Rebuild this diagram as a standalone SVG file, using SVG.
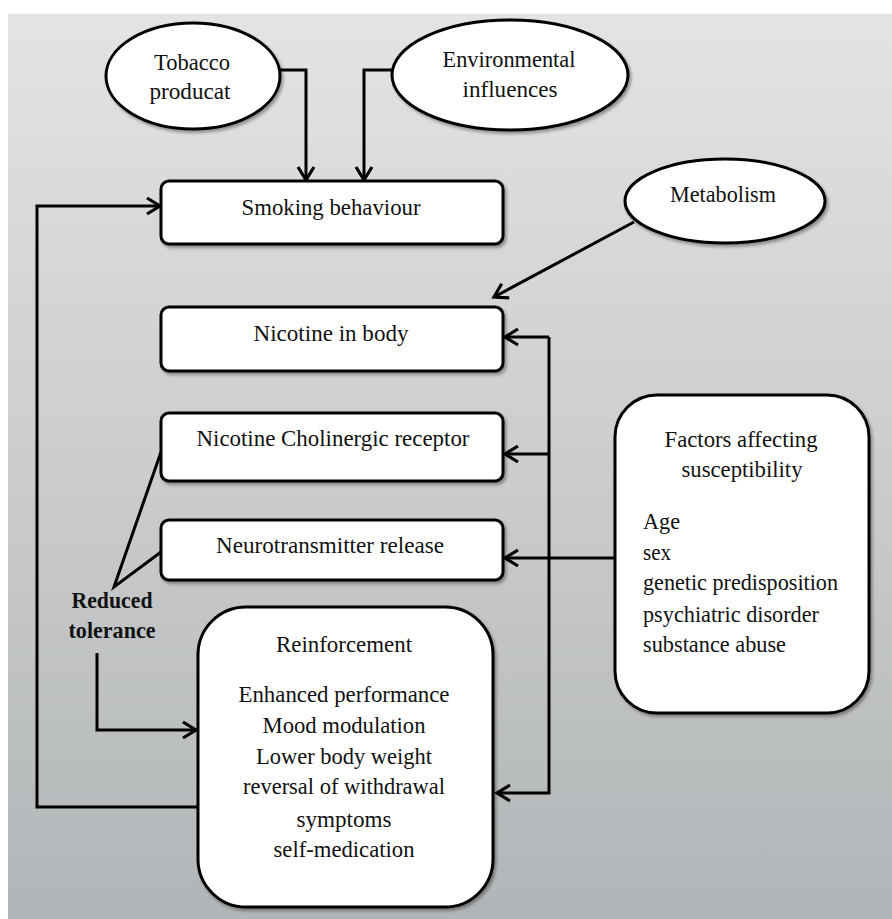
<svg xmlns="http://www.w3.org/2000/svg" width="892" height="919" viewBox="0 0 892 919">
<defs>
<linearGradient id="bg" x1="0" y1="0" x2="0" y2="1">
<stop offset="0" stop-color="#e3e4e4"/>
<stop offset="1" stop-color="#b2b5b7"/>
</linearGradient>
<filter id="sh" x="-10%" y="-10%" width="125%" height="125%">
<feDropShadow dx="2" dy="2.5" stdDeviation="1.5" flood-color="#000" flood-opacity="0.35"/>
</filter>
<marker id="ah" markerUnits="userSpaceOnUse" markerWidth="20" markerHeight="20" viewBox="-2 -2 18 20" refX="13" refY="8" orient="auto" overflow="visible">
<path d="M0,0 L13,8 L0,16" fill="none" stroke="#000" stroke-width="3.2" stroke-linejoin="miter"/>
</marker>
</defs>
<style>
.n{fill:#fff;stroke:#000;stroke-width:3;filter:url(#sh)}
.t{font-family:"Liberation Serif","Times New Roman",serif;font-size:24px;fill:#111;text-anchor:middle}
.l{text-anchor:start}
.b{font-weight:bold}
.c{fill:none;stroke:#000;stroke-width:3}
</style>
<rect x="0" y="0" width="892" height="919" fill="#fff"/>
<rect x="8" y="14" width="884" height="905" fill="url(#bg)"/>

<g id="connectors">
<polyline class="c" points="280,70 306,70 306,180" marker-end="url(#ah)"/>
<polyline class="c" points="392,70 364,70 364,180" marker-end="url(#ah)"/>
<line class="c" x1="634" y1="222" x2="494" y2="297" marker-end="url(#ah)"/>
<polyline class="c" points="198,807 37,807 37,206 160,206" marker-end="url(#ah)"/>
<polyline class="c" points="549,337 549,793 497,793" marker-end="url(#ah)"/>
<line class="c" x1="549" y1="337" x2="505" y2="337" marker-end="url(#ah)"/>
<line class="c" x1="549" y1="454" x2="505" y2="454" marker-end="url(#ah)"/>
<line class="c" x1="615" y1="558" x2="505" y2="558" marker-end="url(#ah)"/>
<polyline class="c" points="161,452 114,587 161,552"/>
<polyline class="c" points="97,653 97,730 196,730" marker-end="url(#ah)"/>
</g>

<g id="tobacco">
<ellipse class="n" cx="193" cy="76" rx="87" ry="53"/>
<text class="t" x="192" y="70" textLength="76" lengthAdjust="spacingAndGlyphs">Tobacco</text>
<text class="t" x="190" y="99" textLength="81" lengthAdjust="spacingAndGlyphs">producat</text>
</g>
<g id="environmental">
<ellipse class="n" cx="510" cy="75" rx="118" ry="55"/>
<text class="t" x="509" y="67" textLength="133" lengthAdjust="spacingAndGlyphs">Environmental</text>
<text class="t" x="510" y="97" textLength="95" lengthAdjust="spacingAndGlyphs">influences</text>
</g>
<g id="smoking">
<rect class="n" x="161" y="181" width="342" height="63" rx="8"/>
<text class="t" x="331" y="215" textLength="179" lengthAdjust="spacingAndGlyphs">Smoking behaviour</text>
</g>
<g id="metabolism">
<ellipse class="n" cx="725" cy="201" rx="100" ry="42"/>
<text class="t" x="723" y="202" textLength="106" lengthAdjust="spacingAndGlyphs">Metabolism</text>
</g>
<g id="nicotine">
<rect class="n" x="161" y="307" width="342" height="64" rx="8"/>
<text class="t" x="331" y="341" textLength="155" lengthAdjust="spacingAndGlyphs">Nicotine in body</text>
</g>
<g id="receptor">
<rect class="n" x="161" y="413" width="342" height="68" rx="8"/>
<text class="t" x="333" y="446" textLength="273" lengthAdjust="spacingAndGlyphs">Nicotine Cholinergic receptor</text>
</g>
<g id="neurotransmitter">
<rect class="n" x="161" y="520" width="342" height="60" rx="8"/>
<text class="t" x="330" y="553" textLength="228" lengthAdjust="spacingAndGlyphs">Neurotransmitter release</text>
</g>
<g id="factors">
<rect class="n" x="615" y="395" width="254" height="318" rx="42"/>
<text class="t" x="741" y="447" textLength="153" lengthAdjust="spacingAndGlyphs">Factors affecting</text>
<text class="t" x="742" y="477" textLength="121" lengthAdjust="spacingAndGlyphs">susceptibility</text>
<text class="t l" x="643" y="529" textLength="37" lengthAdjust="spacingAndGlyphs">Age</text>
<text class="t l" x="643" y="560" textLength="28" lengthAdjust="spacingAndGlyphs">sex</text>
<text class="t l" x="643" y="590" textLength="195" lengthAdjust="spacingAndGlyphs">genetic predisposition</text>
<text class="t l" x="643" y="622" textLength="176" lengthAdjust="spacingAndGlyphs">psychiatric disorder</text>
<text class="t l" x="643" y="652" textLength="143" lengthAdjust="spacingAndGlyphs">substance abuse</text>
</g>
<g id="tolerance">
<text class="t b" x="112" y="608" textLength="81" lengthAdjust="spacingAndGlyphs">Reduced</text>
<text class="t b" x="112" y="638" textLength="87" lengthAdjust="spacingAndGlyphs">tolerance</text>
</g>
<g id="reinforcement">
<rect class="n" x="198" y="607" width="295" height="300" rx="48"/>
<text class="t" x="344" y="652" textLength="136" lengthAdjust="spacingAndGlyphs">Reinforcement</text>
<text class="t" x="344" y="702" textLength="211" lengthAdjust="spacingAndGlyphs">Enhanced performance</text>
<text class="t" x="344" y="733" textLength="163" lengthAdjust="spacingAndGlyphs">Mood modulation</text>
<text class="t" x="344" y="764" textLength="176" lengthAdjust="spacingAndGlyphs">Lower body weight</text>
<text class="t" x="344" y="794" textLength="202" lengthAdjust="spacingAndGlyphs">reversal of withdrawal</text>
<text class="t" x="344" y="827" textLength="95" lengthAdjust="spacingAndGlyphs">symptoms</text>
<text class="t" x="344" y="857" textLength="141" lengthAdjust="spacingAndGlyphs">self-medication</text>
</g>
</svg>
